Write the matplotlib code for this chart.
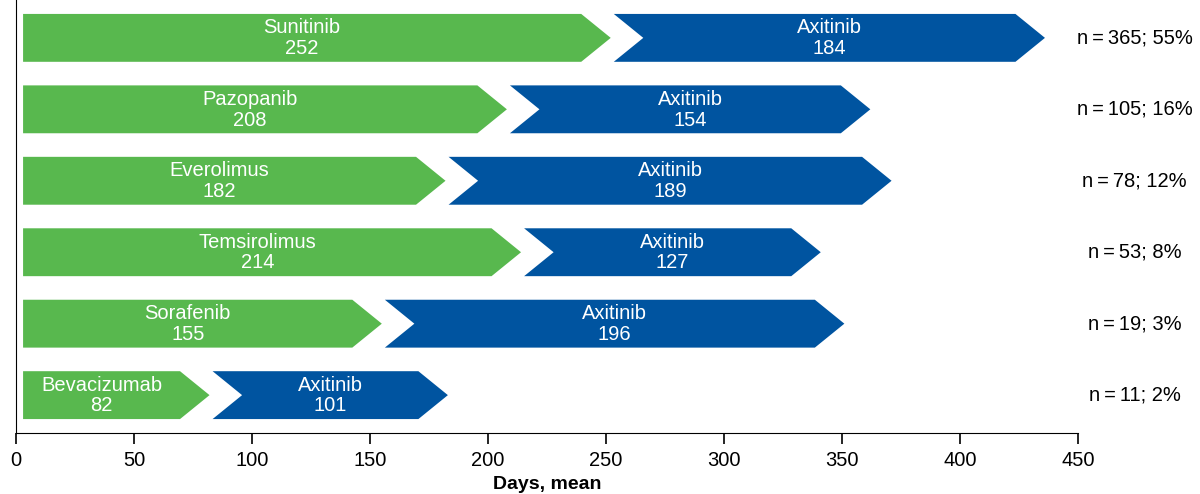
import matplotlib.pyplot as plt
from matplotlib.patches import Polygon

# first-line agent, days on first line, days on axitinib, and cohort size
first_line = ['Sunitinib', 'Pazopanib', 'Everolimus', 'Temsirolimus', 'Sorafenib', 'Bevacizumab']
first_days = [252, 208, 182, 214, 155, 82]
second_line = ['Axitinib'] * 6
second_days = [184, 154, 189, 127, 196, 101]
cohort = ['n\u2009=\u2009365; 55%', 'n\u2009=\u2009105; 16%', 'n\u2009=\u200978; 12%',
          'n\u2009=\u200953; 8%', 'n\u2009=\u200919; 3%', 'n\u2009=\u200911; 2%']

green = '#58B84E'
blue = '#0054A0'

plt.rcParams['font.family'] = ['Liberation Sans', 'DejaVu Sans']

fig = plt.figure(figsize=(12, 4.94), dpi=100)
ax = fig.add_axes([16 / 1200, 61 / 494, 1062 / 1200, 433 / 494])

h = 0.67      # arrow height
tip = 12.5    # length of the arrow point, days
gap = 1.3     # white gap between the two arrows
x0 = 3

for i in range(len(first_line)):
    v1 = first_days[i]
    v2 = v1 + second_days[i]
    top, bot = i - h / 2, i + h / 2

    g = Polygon([(x0, top), (v1 - tip, top), (v1, i), (v1 - tip, bot), (x0, bot)],
                closed=True, facecolor=green, edgecolor='none')
    ax.add_patch(g)
    b = Polygon([(v1 + gap, top), (v2 - tip, top), (v2, i), (v2 - tip, bot),
                 (v1 + gap, bot), (v1 + gap + tip, i)],
                closed=True, facecolor=blue, edgecolor='none')
    ax.add_patch(b)

    cx = (x0 + v1 - tip) / 2
    ax.text(cx, i - 0.14, first_line[i], color='white', fontsize=14.5, ha='center', va='center')
    ax.text(cx, i + 0.15, str(first_days[i]), color='white', fontsize=14.5, ha='center', va='center')
    bx = (v1 + gap + v2) / 2
    ax.text(bx, i - 0.14, second_line[i], color='white', fontsize=14.5, ha='center', va='center')
    ax.text(bx, i + 0.15, str(second_days[i]), color='white', fontsize=14.5, ha='center', va='center')

    ax.text(474, i, cohort[i], fontsize=14.5, ha='center', va='center', clip_on=False)

ax.set_xlim(0, 450)
ax.set_ylim(5.53, -0.53)
ax.set_xticks(range(0, 451, 50))
ax.set_yticks([])
ax.spines['top'].set_visible(False)
ax.spines['right'].set_visible(False)
ax.tick_params(axis='x', direction='out', length=8, width=1.2, labelsize=14.5, pad=5)
ax.set_xlabel('Days, mean', fontsize=14, fontweight='bold', labelpad=4)

fig.savefig('out.png', dpi=100)
